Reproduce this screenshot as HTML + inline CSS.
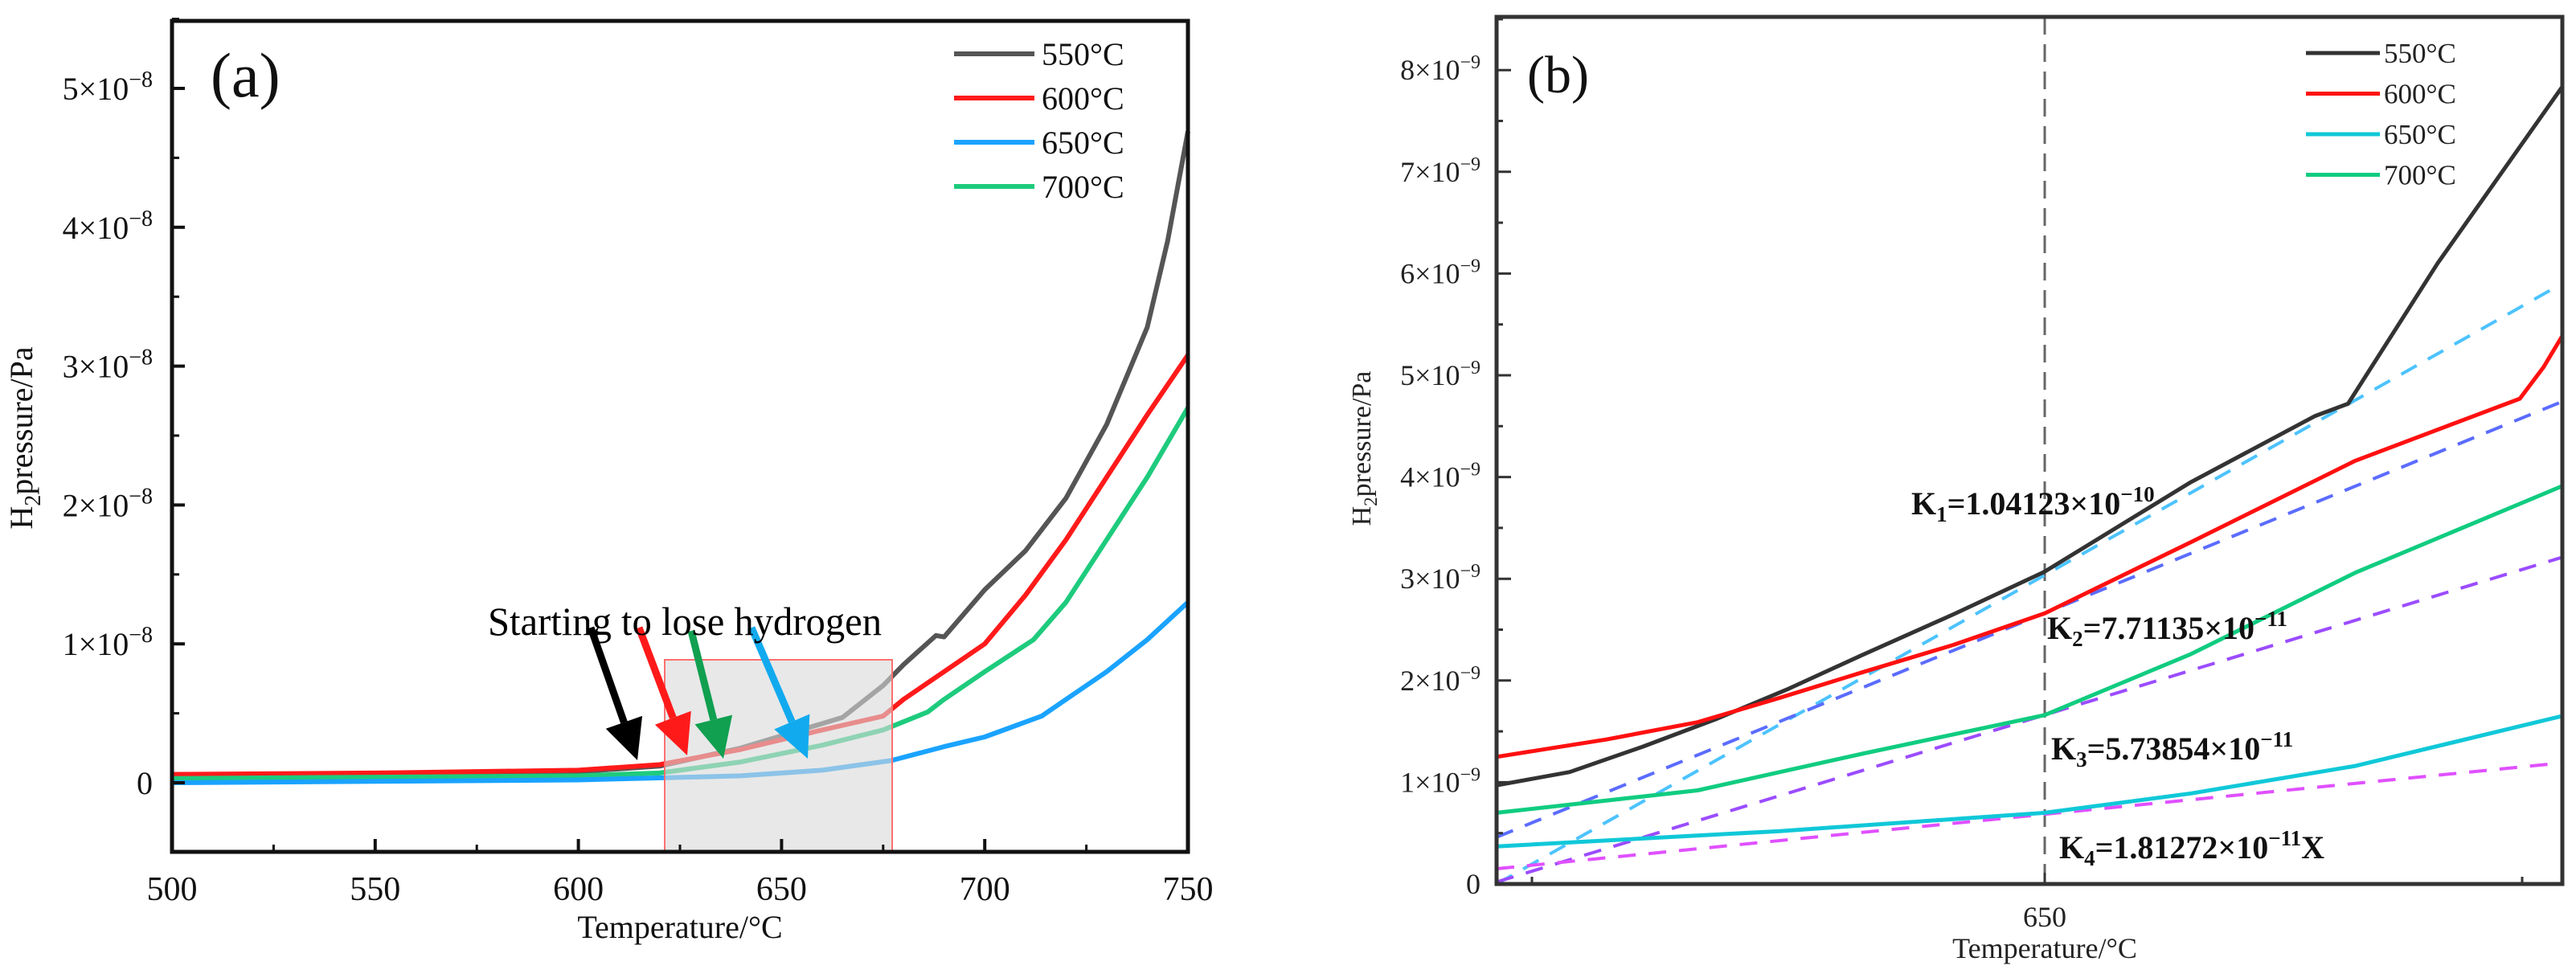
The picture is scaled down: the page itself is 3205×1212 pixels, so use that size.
<!DOCTYPE html>
<html><head><meta charset="utf-8"><style>
html,body{margin:0;padding:0;background:#fff;}
svg{display:block;font-family:"Liberation Serif",serif;}
</style></head><body>
<svg id="fig" width="3205" height="1212" viewBox="0 0 3205 1212" xmlns="http://www.w3.org/2000/svg">
<g id="pa"></g>
<g id="pb"></g>
</svg>
<script>
// ---------- Panel (a) data ----------
const aTemps550 = [500,550,600,620,640,665,675,680,688,690,700,710,720,730,740,745,750];
const aVals550  = [0.06,0.06,0.08,0.12,0.25,0.47,0.70,0.85,1.06,1.05,1.39,1.67,2.05,2.58,3.28,3.90,4.69];
const aTemps600 = [500,550,600,620,640,660,675,680,690,700,710,720,730,740,750];
const aVals600  = [0.06,0.07,0.09,0.13,0.24,0.38,0.48,0.60,0.80,1.00,1.35,1.75,2.20,2.65,3.08];
const aTemps650 = [500,550,600,640,660,677,690,700,714,720,730,740,750];
const aVals650  = [0.0,0.01,0.02,0.05,0.09,0.16,0.26,0.33,0.48,0.60,0.80,1.03,1.30];
const aTemps700 = [500,550,600,620,640,660,675,686,690,700,712,720,730,740,750];
const aVals700  = [0.03,0.04,0.05,0.07,0.15,0.27,0.38,0.51,0.60,0.80,1.03,1.30,1.75,2.20,2.70];
const aXTicks = [500,550,600,650,700,750];
const aYTicks = [0,1,2,3,4,5];
const aLegend = ["550°C","600°C","650°C","700°C"];

// ---------- Panel (b) data ----------
const bTemps550 = [620,624,628,632,636,640,645,650,658,664.8,666.6,671.5,678.3];
const bVals550  = [0.97,1.10,1.35,1.62,1.92,2.25,2.65,3.07,3.95,4.60,4.72,6.10,7.83];
const bTemps600 = [620,626,631,635.5,640,645,650,658,667,676,677.3,678.3];
const bVals600  = [1.25,1.42,1.59,1.83,2.08,2.35,2.66,3.36,4.16,4.77,5.08,5.38];
const bTemps650 = [620,635.5,650,658,667,678.3];
const bVals650  = [0.37,0.52,0.70,0.89,1.16,1.65];
const bTemps700 = [620,631,640,650,658,667,678.3];
const bVals700  = [0.70,0.92,1.28,1.66,2.26,3.06,3.91];
const bFitT = [620,678.3];
const bFitK1 = [0.0,5.90];
const bFitK2 = [0.46,4.74];
const bFitK3 = [0.02,3.21];
const bFitK4 = [0.15,1.19];
const bYTicks = [0,1,2,3,4,5,6,7,8];
const bXTicks = [650];

const NS="http://www.w3.org/2000/svg";
function mk(parent,tag,attrs){const e=document.createElementNS(NS,tag);for(const k in attrs)e.setAttribute(k,attrs[k]);parent.appendChild(e);return e;}

// ---------- Panel (a) ----------
const pa=document.getElementById('pa');
const aL=214,aR=1478,aT=26,aB=1060;
const ax=t=>aL+(t-500)/250*(aR-aL);
const ay=v=>974-v*172.8;
function pathA(ts,vs){return ts.map((t,i)=>(i?'L':'M')+ax(t).toFixed(1)+','+ay(vs[i]).toFixed(1)).join(' ');}
const aSeries=[[aTemps550,aVals550,'#555555','curve-550'],[aTemps600,aVals600,'#ff1a1a','curve-600'],[aTemps700,aVals700,'#1ecb7d','curve-700'],[aTemps650,aVals650,'#1aa3ff','curve-650']];
aSeries.forEach(s=>{
  const p=mk(pa,'path',{d:pathA(s[0],s[1]),fill:'none',stroke:s[2],'stroke-width':6,'stroke-linejoin':'round'});
  
  
});
const box=mk(pa,'rect',{x:827,y:821,width:283,height:239,fill:'#d8d8d8','fill-opacity':0.6,stroke:'#ff7070','stroke-width':2});


const fa=mk(pa,'rect',{x:aL,y:aT,width:aR-aL,height:aB-aT,fill:'none',stroke:'#111','stroke-width':5});


aXTicks.forEach((t,i)=>{
  mk(pa,'line',{x1:ax(t),x2:ax(t),y1:aB,y2:aB-16,stroke:'#111','stroke-width':4});
  if(i<aXTicks.length-1) mk(pa,'line',{x1:ax(t+25),x2:ax(t+25),y1:aB,y2:aB-9,stroke:'#111','stroke-width':3});
  const tx=mk(pa,'text',{x:ax(t),y:1120,'font-size':42,'text-anchor':'middle',fill:'#111'});
  tx.textContent=t;
  
  
});
aYTicks.forEach(v=>{
  mk(pa,'line',{x1:aL,x2:aL+16,y1:ay(v),y2:ay(v),stroke:'#111','stroke-width':4});
  mk(pa,'line',{x1:aL,x2:aL+9,y1:ay(v+0.5),y2:ay(v+0.5),stroke:'#111','stroke-width':3});
  const tx=mk(pa,'text',{x:190,y:ay(v)+14,'font-size':40,'text-anchor':'end',fill:'#111'});
  
  
  if(v===0){tx.textContent='0';}
  else{tx.innerHTML=v+'×10<tspan dy="-16" font-size="28">−8</tspan>';}
});
mk(pa,'line',{x1:aL,x2:aL+16,y1:ay(-0.5),y2:ay(-0.5),stroke:'#111','stroke-width':3});
aLegend.forEach((l,i)=>{
  const cols=['#555555','#ff1a1a','#1aa3ff','#1ecb7d'];
  const y=67+i*55;
  mk(pa,'line',{x1:1187,x2:1287,y1:y,y2:y,stroke:cols[i],'stroke-width':6});
  const tx=mk(pa,'text',{x:1296,y:y+14,'font-size':40,fill:'#111'});
  tx.textContent=l;
  
  
});
const arrows=[[735,781,793,946,'#000'],[795,781,855,940,'#ff1a1a'],[860,785,900,944,'#10a050'],[935,781,1005,944,'#12aaee']];
arrows.forEach(a=>{
  const [x1,y1,x2,y2,c]=a;const dx=x2-x1,dy=y2-y1,L=Math.hypot(dx,dy),ux=dx/L,uy=dy/L;
  const hx=x2-ux*50,hy=y2-uy*50;
  const g=mk(pa,'g',{});
  
  
  mk(g,'line',{x1:x1,y1:y1,x2:hx,y2:hy,stroke:c,'stroke-width':9});
  mk(g,'polygon',{points:`${x2},${y2} ${hx-uy*24},${hy+ux*24} ${hx+uy*24},${hy-ux*24}`,fill:c});
});
const ann=mk(pa,'text',{x:607,y:790,'font-size':50,fill:'#000',textLength:490,lengthAdjust:'spacingAndGlyphs'});
ann.textContent='Starting to lose hydrogen';


const la=mk(pa,'text',{x:262,y:120,'font-size':78,fill:'#111'});la.textContent='(a)';

const xta=mk(pa,'text',{x:846,y:1167,'font-size':40,'text-anchor':'middle',fill:'#111'});xta.textContent='Temperature/°C';

const yta=mk(pa,'text',{x:0,y:0,'font-size':40,'text-anchor':'middle',fill:'#111',transform:'translate(40,545) rotate(-90)'});
yta.innerHTML='H<tspan dy="10" font-size="28">2</tspan><tspan dy="-10">pressure/Pa</tspan>';


// ---------- Panel (b) ----------
const pb=document.getElementById('pb');
const bL=1862,bR=3188,bT=21,bB=1100;
const bx=t=>bL+(t-620)/30*(2544-bL);
const by=v=>bB-v*126.6;
function pathB(ts,vs){return ts.map((t,i)=>(i?'L':'M')+bx(t).toFixed(1)+','+by(vs[i]).toFixed(1)).join(' ');}
const vl=mk(pb,'line',{x1:bx(650),x2:bx(650),y1:bT,y2:bB,stroke:'#666','stroke-width':3,'stroke-dasharray':'22,12'});

const fits=[[bFitK1,'#4cc3ff','fit-k1'],[bFitK2,'#5b6cff','fit-k2'],[bFitK3,'#9b4cff','fit-k3'],[bFitK4,'#e050ff','fit-k4']];
fits.forEach(f=>{
  const p=mk(pb,'path',{d:pathB(bFitT,f[0]),fill:'none',stroke:f[1],'stroke-width':4,'stroke-dasharray':'22,16'});
  
  
});
const bSeries=[[bTemps550,bVals550,'#333333','curve-550-b'],[bTemps600,bVals600,'#ff1010','curve-600-b'],[bTemps700,bVals700,'#10cc80','curve-700-b'],[bTemps650,bVals650,'#10c8d8','curve-650-b']];
bSeries.forEach(s=>{
  const p=mk(pb,'path',{d:pathB(s[0],s[1]),fill:'none',stroke:s[2],'stroke-width':5,'stroke-linejoin':'round'});
  
  
});
const fb=mk(pb,'rect',{x:bL,y:bT,width:bR-bL,height:bB-bT,fill:'none',stroke:'#333','stroke-width':5});

bYTicks.forEach(v=>{
  mk(pb,'line',{x1:bL,x2:bL+18,y1:by(v),y2:by(v),stroke:'#333','stroke-width':3});
  mk(pb,'line',{x1:bL,x2:bL+8,y1:by(v+0.5),y2:by(v+0.5),stroke:'#333','stroke-width':3});
  const tx=mk(pb,'text',{x:1842,y:by(v)+12,'font-size':36,'text-anchor':'end',fill:'#222'});
  
  if(v===0)tx.textContent='0';else tx.innerHTML=v+'×10<tspan dy="-14" font-size="24">−9</tspan>';
});
bXTicks.forEach(t=>{
  mk(pb,'line',{x1:bx(t),x2:bx(t),y1:bB,y2:bB-14,stroke:'#333','stroke-width':3});
  const tx=mk(pb,'text',{x:bx(t),y:1153,'font-size':36,'text-anchor':'middle',fill:'#222'});tx.textContent=t;
  
});
[1906,3138].forEach(x=>mk(pb,'line',{x1:x,x2:x,y1:bB,y2:bB-9,stroke:'#333','stroke-width':3}));
["550°C","600°C","650°C","700°C"].forEach((l,i)=>{
  const cols=['#333333','#ff1010','#10c8d8','#10cc80'];const y=66+i*50.5;
  mk(pb,'line',{x1:2869,x2:2961,y1:y,y2:y,stroke:cols[i],'stroke-width':5});
  const tx=mk(pb,'text',{x:2966,y:y+12,'font-size':35,fill:'#222'});tx.textContent=l;
  
});
const kl=[[2378,640,'1','1.04123×10','−10',''],[2547,795,'2','7.71135×10','−11',''],[2552,945,'3','5.73854×10','−11',''],[2562,1068,'4','1.81272×10','−11','X']];
kl.forEach(k=>{
  const tx=mk(pb,'text',{x:k[0],y:k[1],'font-size':40,'font-weight':'bold',fill:'#111'});
  tx.innerHTML='K<tspan dy="9" font-size="27">'+k[2]+'</tspan><tspan dy="-9">='+k[3]+'</tspan><tspan dy="-16" font-size="27">'+k[4]+'</tspan><tspan dy="16">'+k[5]+'</tspan>';
  
});
const lb=mk(pb,'text',{x:1900,y:115,'font-size':66,fill:'#111'});lb.textContent='(b)';

const xtb=mk(pb,'text',{x:2544,y:1192,'font-size':36,'text-anchor':'middle',fill:'#222'});xtb.textContent='Temperature/°C';

const ytb=mk(pb,'text',{x:0,y:0,'font-size':34,'text-anchor':'middle',fill:'#222',transform:'translate(1705,558) rotate(-90)'});
ytb.innerHTML='H<tspan dy="8" font-size="23">2</tspan><tspan dy="-8">pressure/Pa</tspan>';

</script>
</body></html>
